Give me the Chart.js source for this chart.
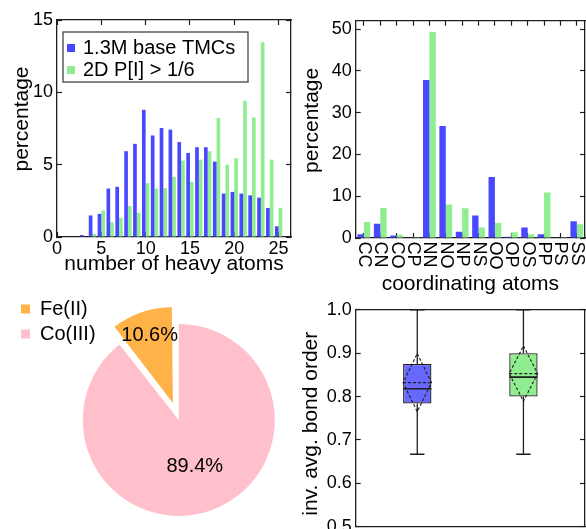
<!DOCTYPE html>
<html>
<head>
<meta charset="utf-8">
<title>TMC set statistics</title>
<script src="https://cdn.jsdelivr.net/npm/chart.js"></script>
<style>
  html, body { margin: 0; padding: 0; background: #fff; }
  body { position: relative; width: 586px; height: 529px; overflow: hidden; }
  canvas { position: absolute; }
</style>
</head>
<body>
<canvas id="heavyAtoms" width="295" height="280" style="left:0;top:0"></canvas>
<canvas id="coordAtoms" width="293" height="297" style="left:293px;top:0"></canvas>
<canvas id="metals" width="293" height="270" style="left:0;top:280px"></canvas>
<canvas id="bondOrder" width="293" height="260" style="left:293px;top:290px"></canvas>
<script>
// --- data ---------------------------------------------------------------
const seriesNames = ['1.3M base TMCs', '2D P[I] > 1/6'];

// number of heavy atoms (percentage of complexes)
const heavyAtomCounts = [3, 4, 5, 6, 7, 8, 9, 10, 11, 12, 13, 14, 15, 16, 17, 18, 19, 20, 21, 22, 23, 24, 25];
const baseHeavy = [0.14, 1.49, 1.6, 3.35, 3.47, 5.93, 6.44, 8.79, 7.02, 7.53, 7.42, 6.56, 5.81, 6.21, 6.21, 5.21, 3.0, 3.12, 3.0, 2.88, 2.72, 2.0, 0.74];
const filteredHeavy = [0, 0.21, 1.84, 1.02, 1.33, 2.14, 1.67, 3.72, 3.35, 3.37, 4.16, 5.28, 3.81, 5.35, 5.93, 8.23, 5.0, 5.44, 9.42, 8.26, 13.47, 5.35, 2.02];

// coordinating atom pairs (percentage)
const atomPairs = ['CC', 'CN', 'CO', 'CP', 'NN', 'NO', 'NP', 'NS', 'OO', 'OP', 'OS', 'PP', 'PS', 'SS'];
const basePairs = [0.9, 3.4, 0.6, 0, 37.8, 26.8, 1.5, 5.4, 14.6, 0.3, 2.5, 0.9, 0, 4.0];
const filteredPairs = [3.8, 7.2, 0.8, 0.2, 49.3, 8.0, 7.1, 2.5, 3.6, 1.4, 0.9, 10.9, 0.2, 3.3];

// metal / oxidation state split
const metalLabels = ['Fe(II)', 'Co(III)'];
const metalShares = [10.6, 89.4];

// inverse average bond order, one box per set
const boxPositions = [1, 2];
const bondMin = [0.667, 0.667];
const bondQ1 = [0.784, 0.8];
const bondMedian = [0.818, 0.845];
const bondMean = [0.832, 0.853];
const bondQ3 = [0.875, 0.9];
const bondMax = [1.0, 1.0];
const bondSpread = [0.067, 0.064];

// --- style --------------------------------------------------------------
const FONT = "'Liberation Sans', Arial, Helvetica, sans-serif";
const INK = '#1e1e1e';
const BLUE = 'rgb(72, 72, 255)';
const GREEN = 'rgb(144, 238, 144)';
const BOX_BLUE = 'rgb(104, 104, 255)';
const ORANGE = 'rgb(255, 178, 72)';
const PINK = 'rgb(255, 192, 203)';
const TICK_SIZE = 18;
const TITLE_SIZE = 21;
const BOX_WIDTH = 0.267;
const CAP_WIDTH = 0.136;
const EXPLODE = 18; // px the Fe(II) wedge is pulled out

Chart.defaults.font.family = FONT;
Chart.defaults.color = '#000';

// closed frame axis with inward tick marks
function frameAxis(position, o) {
  const horizontal = position === 'top' || position === 'bottom';
  const ticks = {
    display: !!o.labels,
    includeBounds: false,
    autoSkip: false,
    maxRotation: 0,
    minRotation: 0,
    padding: horizontal ? 6 : 9,
    color: '#000',
    font: { size: TICK_SIZE }
  };
  if (o.step !== undefined) ticks.stepSize = o.step;
  if (o.format) ticks.callback = o.format;
  const axis = {
    type: o.type || 'linear',
    position: position,
    offset: !!o.offset,
    border: { display: true, color: INK, width: 1.3 },
    grid: {
      display: true,
      drawOnChartArea: false,
      drawTicks: o.marks !== false,
      tickLength: -5,
      tickWidth: 1.2,
      tickColor: INK,
      offset: false
    },
    ticks: ticks,
    title: {
      display: !!o.title,
      text: o.title || '',
      color: '#000',
      font: { size: TITLE_SIZE },
      padding: 0
    },
    afterFit: function (scale) {
      if (horizontal) scale.height = o.size; else scale.width = o.size;
    }
  };
  if (o.min !== undefined) axis.min = o.min;
  if (o.max !== undefined) axis.max = o.max;
  return axis;
}

function baseOptions(padding, scales, plugins) {
  return {
    responsive: false,
    animation: false,
    devicePixelRatio: 1,
    events: [],
    layout: { padding: padding },
    plugins: Object.assign({ legend: { display: false }, tooltip: { enabled: false } }, plugins || {}),
    scales: scales
  };
}

// rotated title beside the y axis, nudged along the axis
const sideTitle = {
  id: 'sideTitle',
  afterDraw(chart, args, opts) {
    const scale = chart.scales.y;
    const ctx = chart.ctx;
    ctx.save();
    ctx.font = TITLE_SIZE + 'px ' + FONT;
    ctx.fillStyle = '#000';
    ctx.textAlign = 'center';
    ctx.textBaseline = 'middle';
    ctx.translate(scale.left + opts.x, (scale.top + scale.bottom) / 2 + opts.shift);
    ctx.rotate(-Math.PI / 2);
    ctx.fillText(opts.text, 0, 0);
    ctx.restore();
  }
};

// boxed legend inside the plot area
const frameLegend = {
  id: 'frameLegend',
  afterDatasetsDraw(chart, args, opts) {
    const { ctx, chartArea } = chart;
    const x = chartArea.left + opts.x;
    const y = chartArea.top + opts.y;
    ctx.save();
    ctx.fillStyle = '#fff';
    ctx.fillRect(x, y, opts.width, opts.height);
    ctx.strokeStyle = '#444';
    ctx.lineWidth = 1.3;
    ctx.strokeRect(x, y, opts.width, opts.height);
    ctx.font = opts.size + 'px ' + FONT;
    ctx.textBaseline = 'middle';
    chart.data.datasets.forEach((ds, i) => {
      const cy = y + opts.firstRow + i * opts.rowGap;
      ctx.fillStyle = ds.backgroundColor;
      ctx.fillRect(x + 4, cy - 4, 8, 8);
      ctx.fillStyle = '#000';
      ctx.fillText(ds.label, x + 20, cy);
    });
    ctx.restore();
  }
};

// category names written downwards under each tick
const verticalCategoryLabels = {
  id: 'verticalCategoryLabels',
  afterDraw(chart, args, opts) {
    const scale = chart.scales.x;
    const ctx = chart.ctx;
    ctx.save();
    ctx.font = opts.size + 'px ' + FONT;
    ctx.fillStyle = '#000';
    ctx.textAlign = 'left';
    ctx.textBaseline = 'middle';
    scale.ticks.forEach((tick, i) => {
      ctx.save();
      ctx.translate(scale.getPixelForTick(i), scale.top + opts.gap);
      ctx.rotate(Math.PI / 2);
      ctx.fillText(scale.getLabelForValue(tick.value), 0, 0);
      ctx.restore();
    });
    ctx.restore();
  }
};

// exploded wedge keeps the pie radius; percentages written on the slices
const pieDetails = {
  id: 'pieDetails',
  beforeDatasetsDraw(chart) {
    // an arc with offset o is shifted by o/4 and grown by (o/4)*(1 - sin(sweep)); undo the growth
    const meta = chart.getDatasetMeta(0);
    const base = meta.controller.outerRadius;
    const ds = chart.data.datasets[0];
    meta.data.forEach((arc, i) => {
      const sweep = Math.min(Math.PI, arc.endAngle - arc.startAngle);
      arc.outerRadius = base - (ds.offset[i] / 4) * (1 - Math.sin(sweep));
    });
  },
  afterDatasetsDraw(chart, args, opts) {
    const ctx = chart.ctx;
    const ds = chart.data.datasets[0];
    const meta = chart.getDatasetMeta(0);
    const base = meta.controller.outerRadius;
    const total = ds.data.reduce((a, b) => a + b, 0);
    meta.data.forEach((arc, i) => {
      const mid = (arc.startAngle + arc.endAngle) / 2;
      const r = ds.offset[i] / 4 + opts.radii[i] * base;
      ctx.save();
      ctx.font = opts.size + 'px ' + FONT;
      ctx.fillStyle = '#000';
      ctx.textAlign = 'center';
      ctx.textBaseline = 'middle';
      ctx.fillText((ds.data[i] / total * 100).toFixed(1) + '%', arc.x + r * Math.cos(mid), arc.y + r * Math.sin(mid));
      ctx.restore();
    });
  }
};

// --- heavy atom histogram ----------------------------------------------
new Chart('heavyAtoms', {
  type: 'bar',
  data: {
    datasets: [
      { label: seriesNames[0], data: heavyAtomCounts.map((n, i) => ({ x: n, y: baseHeavy[i] })),
        backgroundColor: BLUE, categoryPercentage: 0.83, barPercentage: 1, xAxisID: 'x', yAxisID: 'y' },
      { label: seriesNames[1], data: heavyAtomCounts.map((n, i) => ({ x: n, y: filteredHeavy[i] })),
        backgroundColor: GREEN, categoryPercentage: 0.83, barPercentage: 1, xAxisID: 'x', yAxisID: 'y' }
    ]
  },
  options: baseOptions({ top: 20, right: 4, bottom: 3, left: 0 }, {
    x: frameAxis('bottom', { min: 0, max: 26.4, step: 5, labels: true, size: 40, title: 'number of heavy atoms' }),
    x2: frameAxis('top', { min: 0, max: 26.4, step: 5, size: 0 }),
    y: frameAxis('left', { min: 0, max: 15, step: 5, labels: true, size: 57 }),
    y2: frameAxis('right', { min: 0, max: 15, step: 5, size: 0 })
  }, {
    frameLegend: { x: 6, y: 12, width: 185, height: 50, firstRow: 16, rowGap: 22, size: 20 },
    sideTitle: { text: 'percentage', x: 22.6, shift: -9.5 }
  }),
  plugins: [frameLegend, sideTitle]
});

// --- coordinating atoms -------------------------------------------------
new Chart('coordAtoms', {
  type: 'bar',
  data: {
    labels: atomPairs,
    datasets: [
      { label: seriesNames[0], data: basePairs, backgroundColor: BLUE,
        categoryPercentage: 0.78, barPercentage: 1, xAxisID: 'x', yAxisID: 'y' },
      { label: seriesNames[1], data: filteredPairs, backgroundColor: GREEN,
        categoryPercentage: 0.78, barPercentage: 1, xAxisID: 'x', yAxisID: 'y' }
    ]
  },
  options: baseOptions({ top: 20.7, right: 1, bottom: 0, left: 0 }, {
    x: frameAxis('bottom', { type: 'category', offset: true, size: 59, title: 'coordinating atoms' }),
    x2: frameAxis('top', { type: 'category', offset: true, size: 0 }),
    y: frameAxis('left', { min: 0, max: 52, step: 10, labels: true, size: 62.7 }),
    y2: frameAxis('right', { min: 0, max: 52, step: 10, size: 0 })
  }, {
    verticalCategoryLabels: { size: 18, gap: 3.5 },
    sideTitle: { text: 'percentage', x: 19.4, shift: -9 }
  }),
  plugins: [verticalCategoryLabels, sideTitle]
});

// --- metal split --------------------------------------------------------
const shareTotal = metalShares.reduce((a, b) => a + b, 0);
new Chart('metals', {
  type: 'pie',
  data: {
    labels: metalLabels,
    datasets: [{
      data: metalShares,
      backgroundColor: [ORANGE, PINK],
      borderWidth: 0,
      offset: [EXPLODE * 4, 0],
      hoverOffset: 0
    }]
  },
  options: {
    responsive: false,
    animation: false,
    devicePixelRatio: 1,
    events: [],
    radius: 96,
    rotation: -metalShares[0] / shareTotal * 360,
    layout: { padding: { top: 14, left: 16, right: 41, bottom: 4 } },
    plugins: {
      legend: {
        position: 'left',
        align: 'start',
        labels: { boxWidth: 9, boxHeight: 9, padding: 5, color: '#000', font: { size: 20 } }
      },
      tooltip: { enabled: false },
      pieDetails: { radii: [0.74, 0.51], size: 20 }
    }
  },
  plugins: [pieDetails]
});

// --- inverse average bond order boxes -----------------------------------
function segment(points, width, dash) {
  return {
    type: 'line',
    data: points.map(p => ({ x: p[0], y: p[1] })),
    borderColor: INK,
    borderWidth: width,
    borderDash: dash || [],
    pointRadius: 0,
    fill: false,
    tension: 0,
    order: 1,
    xAxisID: 'x',
    yAxisID: 'y'
  };
}

const boxSets = [{
  type: 'bar',
  data: boxPositions.map((x, i) => ({ x: x, y: [bondQ1[i], bondQ3[i]] })),
  backgroundColor: [BOX_BLUE, GREEN],
  borderColor: INK,
  borderWidth: 1.3,
  borderSkipped: false,
  categoryPercentage: BOX_WIDTH,
  barPercentage: 1,
  order: 2,
  xAxisID: 'x',
  yAxisID: 'y'
}];

boxPositions.forEach((x, i) => {
  const h = BOX_WIDTH / 2;
  const c = CAP_WIDTH / 2;
  const top = bondMean[i] + bondSpread[i];
  const bottom = bondMean[i] - bondSpread[i];
  boxSets.push(segment([[x, bondQ3[i]], [x, bondMax[i]]], 1.3));
  boxSets.push(segment([[x, bondQ1[i]], [x, bondMin[i]]], 1.3));
  boxSets.push(segment([[x - c, bondMax[i]], [x + c, bondMax[i]]], 1.3));
  boxSets.push(segment([[x - c, bondMin[i]], [x + c, bondMin[i]]], 1.3));
  boxSets.push(segment([[x - h, bondMedian[i]], [x + h, bondMedian[i]]], 1.7));
  boxSets.push(segment([[x - h, bondMean[i]], [x + h, bondMean[i]]], 1.2, [3, 2]));
  boxSets.push(segment([[x, top], [x + h, bondMean[i]], [x, bottom], [x - h, bondMean[i]], [x, top]], 1.1, [3, 2]));
});

new Chart('bondOrder', {
  type: 'bar',
  data: { datasets: boxSets },
  options: baseOptions({ top: 13.3, right: 1, bottom: 0, left: 0 }, {
    x: frameAxis('bottom', { min: 0.42, max: 2.58, step: 1, marks: false, size: 23.3 }),
    x2: frameAxis('top', { min: 0.42, max: 2.58, step: 1, marks: false, size: 0 }),
    y: frameAxis('left', { min: 0.5, max: 1.0, step: 0.1, labels: true, size: 62.7, format: v => v.toFixed(1) }),
    y2: frameAxis('right', { min: 0.5, max: 1.0, step: 0.1, size: 0 })
  }, {
    sideTitle: { text: 'inv. avg. bond order', x: 17.8, shift: 5.5 }
  }),
  plugins: [sideTitle]
});
</script>
</body>
</html>
